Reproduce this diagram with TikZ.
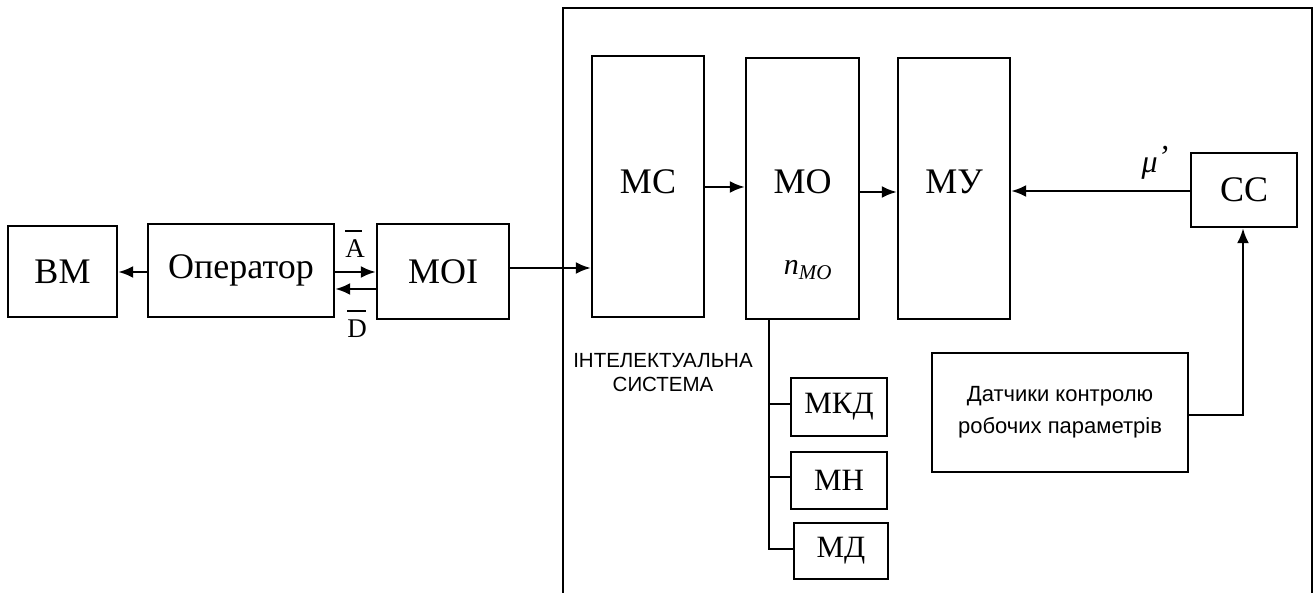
\documentclass[tikz,border=0pt]{standalone}
\usepackage{fontspec}
\setmainfont{Liberation Serif}
\newfontfamily\sansf{Liberation Sans}
\usetikzlibrary{arrows.meta}
\begin{document}
\begin{tikzpicture}[x=1pt,y=-1pt,
  every path/.style={line width=2.4pt},
  blk/.style={draw, line width=2.4pt, inner sep=0pt, font=\fontsize{36}{40}\selectfont},
  sblk/.style={draw, line width=2.4pt, inner sep=0pt, font=\fontsize{31}{34}\selectfont},
  lbl/.style={font=\fontsize{36}{40}\selectfont},
  sig/.style={font=\fontsize{27}{30}\selectfont, inner sep=0pt},
  arr/.style={-{Latex[length=15pt,width=12pt]}, line width=2.4pt}
]
\useasboundingbox (0,0) rectangle (1316,593);
\fill[white] (0,0) rectangle (1316,593);
% big frame
\draw (563,600) -- (563,8) -- (1312,8) -- (1312,600);

% left chain
\node[blk, minimum width=109pt, minimum height=91pt] (bm) at (62.5,271.5) {ВМ};
\node[blk, minimum width=186pt, minimum height=93pt] (op) at (241,270.5) {Оператор};
\node[blk, minimum width=132pt, minimum height=95pt] (moi) at (443,271.5) {МОІ};

% intelligent system blocks
\node[blk, minimum width=112pt, minimum height=261pt] (mc) at (648,186.5) {};
\node[lbl] at (648,182) {МС};
\node[blk, minimum width=113pt, minimum height=261pt] (mo) at (802.5,188.5) {};
\node[lbl] at (802.5,182) {МО};
\node[font=\fontsize{30}{32}\selectfont\itshape] (nmo) at (808,270) {n\textsubscript{MO}};
\node[blk, minimum width=112pt, minimum height=261pt] (my) at (954,188.5) {};
\node[lbl] at (954,182) {МУ};
\node[blk, minimum width=106pt, minimum height=74pt] (cc) at (1244,190) {СС};

\node[draw, line width=2.4pt, minimum width=256pt, minimum height=119pt,
  font=\sansf\fontsize{22}{32}\selectfont, align=center] (sens) at (1060,412.5)
  {Датчики контролю\\робочих параметрів};

\node[font=\sansf\fontsize{20.5}{24}\selectfont, align=center] (is) at (663,373)
  {ІНТЕЛЕКТУАЛЬНА\\СИСТЕМА};

% lower modules
\node[sblk, minimum width=96pt, minimum height=58pt] (mkd) at (839,407) {МКД};
\node[sblk, minimum width=96pt, minimum height=57pt] (mn) at (839,480.5) {МН};
\node[sblk, minimum width=94pt, minimum height=56pt] (md) at (841,551) {МД};

% connectors
\draw[arr] (op.west |- 0,272) -- (bm.east |- 0,272);
\draw[arr] (op.east |- 0,272) -- (moi.west |- 0,272);
\draw[arr] (moi.west |- 0,289) -- (op.east |- 0,289);
\node[sig] (alab) at (355,244) {\rlap{\rule[0.95em]{0.62em}{1.8pt}}A};
\node[sig] (dlab) at (357,324) {\rlap{\rule[0.95em]{0.7em}{1.8pt}}D};

\draw[arr] (moi.east |- 0,268) -- (mc.west |- 0,268);
\draw[arr] (mc.east |- 0,187) -- (mo.west |- 0,187);
\draw[arr] (mo.east |- 0,192) -- (my.west |- 0,192);
\draw[arr] (cc.west |- 0,191) -- (my.east |- 0,191);
\node[font=\fontsize{32}{34}\selectfont\itshape] (mu) at (1155,163) {μ\raisebox{0.15em}{'}};

\coordinate (corner) at (1243,415);
\draw[arr] (sens.east |- corner) -- (corner) -- (cc.south -| corner);

\coordinate (bus) at (769,549);
\draw (mo.south -| bus) -- (bus) -- (md.west |- bus);
\draw (mkd.west |- 0,404) -- (769,404);
\draw (mn.west |- 0,477) -- (769,477);
\end{tikzpicture}
\end{document}
